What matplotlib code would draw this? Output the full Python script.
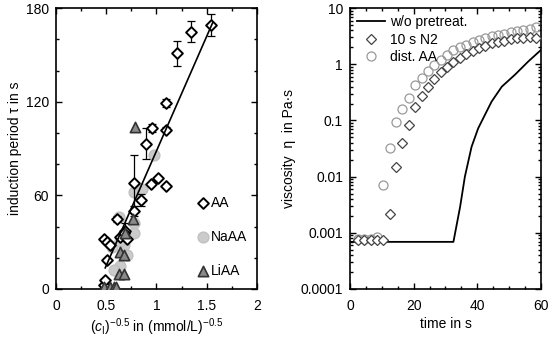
import numpy as np
import matplotlib.pyplot as plt

plt.rcParams['font.family'] = ['Liberation Sans', 'DejaVu Sans']
plt.rcParams['mathtext.fontset'] = 'custom'
plt.rcParams['mathtext.rm'] = 'Liberation Sans'
plt.rcParams['mathtext.it'] = 'Liberation Sans:italic'
plt.rcParams['font.size'] = 10

# left panel: induction period vs (c_I)^-0.5
aa_x = [1.547, 1.347, 1.207, 1.09, 1.09, 0.957, 0.897, 1.013, 0.947, 1.097, 0.78, 0.847,
        0.773, 0.69, 0.607, 0.473, 0.507, 0.533, 0.507, 0.473, 0.49, 0.64, 0.673, 0.707]
aa_y = [169, 165, 151, 119, 102, 103, 93, 71, 67, 66, 68, 57,
        50, 37, 45, 32, 30, 28, 18.6, 2.6, 6, 33, 36, 32]
aa_err = [7, 6.5, 8, 2.5, 1.5, 2.5, 10, 0, 0, 0, 18, 4,
          3, 5, 2, 0, 0, 0, 0, 0, 0, 0, 0, 0]

naaa_x = [0.973, 0.773, 0.857, 0.773, 0.773, 0.673, 0.64, 0.573, 0.707, 0.623, 0.557, 0.64]
naaa_y = [86, 62, 64, 42, 36, 28, 15, 12, 22, 46, 27, 31]

liaa_x = [0.79, 0.767, 0.64, 0.673, 0.623, 0.673, 0.473, 0.533, 0.573, 0.6, 0.69]
liaa_y = [104, 45, 24, 22, 9.6, 9.6, 1.5, 1.5, 1.5, 1.5, 36]

fit_x = [0.49, 1.56]
fit_slope = 147.0
fit_icpt = 15 - 147.0 * 0.5

# right panel: viscosity vs time
t_pts = np.arange(2.5, 59, 2.0)
n2_eta = [0.00074, 0.00075, 0.00074, 0.00076, 0.00074, 0.0022, 0.015, 0.039, 0.083, 0.177,
          0.27, 0.39, 0.55, 0.72, 0.88, 1.08, 1.28, 1.5, 1.72, 1.95,
          2.15, 2.35, 2.5, 2.65, 2.8, 2.9, 2.95, 3.0, 2.9]
dist_eta = [0.00078, 0.00078, 0.00077, 0.00083, 0.0071, 0.032, 0.095, 0.158, 0.255, 0.43,
            0.57, 0.76, 0.98, 1.2, 1.47, 1.76, 2.0, 2.25, 2.5, 2.7,
            2.95, 3.15, 3.35, 3.5, 3.7, 3.85, 4.0, 4.3, 4.7]
line_t = [0, 32.5, 34.6, 36.1, 38.2, 40.3, 42.4, 44.5, 47.7, 51.8, 56.0, 60]
line_eta = [0.00069, 0.00069, 0.0029, 0.01, 0.034, 0.073, 0.126, 0.217, 0.40, 0.65, 1.12, 1.8]

fig = plt.figure(figsize=(5.52, 3.38), dpi=100)
ax1 = fig.add_axes([0.1014, 0.145, 0.3642, 0.831])
ax2 = fig.add_axes([0.634, 0.145, 0.346, 0.831])

# left
ax1.scatter(naaa_x, naaa_y, s=60, c='#cbcbcb', edgecolors='#c0c0c0', linewidths=1, zorder=2, label='NaAA')
ax1.errorbar(aa_x, aa_y, yerr=aa_err, fmt='none', ecolor='black', elinewidth=0.9, capsize=3, capthick=0.9, zorder=3)
ax1.scatter(aa_x, aa_y, s=30, marker='D', c='white', edgecolors='black', linewidths=1.4, zorder=4, label='AA')
ax1.scatter(liaa_x, liaa_y, s=55, marker='^', c='#8a8a8a', edgecolors='#333333', linewidths=1.2, zorder=5, label='LiAA')
fx = np.array(fit_x)
ax1.plot(fx, fit_slope * fx + fit_icpt, color='black', lw=1.2, zorder=6)

ax1.set_xlim(0, 2)
ax1.set_ylim(0, 180)
ax1.set_xticks([0, 0.5, 1, 1.5, 2])
ax1.set_xticklabels(['0', '0.5', '1', '1.5', '2'])
ax1.set_xticks(np.arange(0, 2.01, 0.25), minor=True)
ax1.set_yticks([0, 60, 120, 180])
ax1.set_yticks(np.arange(0, 181, 20), minor=True)
ax1.set_xlabel(r'($\mathit{c}_\mathrm{I}$)$^{-0.5}$ in (mmol/L)$^{-0.5}$', labelpad=3)
ax1.set_ylabel('induction period τ in s', labelpad=3)

h, l = ax1.get_legend_handles_labels()
order = [1, 0, 2]
ax1.legend([h[i] for i in order], [l[i] for i in order], loc='lower left',
           bbox_to_anchor=(0.665, 0.02), frameon=False, handletextpad=0.0,
           labelspacing=1.45, borderaxespad=0, handlelength=1.1, fontsize=10)

# right
ax2.plot(line_t, line_eta, color='black', lw=1.3, label='w/o pretreat.', zorder=3)
ax2.plot(t_pts, n2_eta, ls='none', marker='D', ms=5, mfc='white', mec='#444444', mew=0.9,
         label='10 s N2', zorder=4)
ax2.plot(t_pts, dist_eta, ls='none', marker='o', ms=6.5, mfc='none', mec='#999999', mew=0.9,
         label='dist. AA', zorder=2)
ax2.set_yscale('log')
ax2.set_xlim(0, 60)
ax2.set_ylim(0.0001, 10)
ax2.set_xticks([0, 20, 40, 60])
ax2.set_xticks(np.arange(0, 61, 5), minor=True)
ax2.set_yticks([0.0001, 0.001, 0.01, 0.1, 1, 10])
ax2.set_yticklabels(['0.0001', '0.001', '0.01', '0.1', '1', '10'])
ax2.set_xlabel('time in s', labelpad=3)
ax2.set_ylabel('viscosity  η  in Pa·s', labelpad=3)
ax2.legend(loc='upper left', frameon=False, handletextpad=0.4, labelspacing=0.25,
           borderaxespad=0.1, handlelength=2.0, fontsize=10)

for ax in (ax1, ax2):
    ax.tick_params(which='both', direction='in', top=True, right=True)
    ax.tick_params(which='major', length=4, width=1)
    ax.tick_params(which='minor', length=2.5, width=1)
    ax.tick_params(axis='x', which='major', pad=7)
    ax.tick_params(axis='y', which='major', pad=5)
    for sp in ax.spines.values():
        sp.set_linewidth(1.2)

plt.savefig('out.png', dpi=100)
